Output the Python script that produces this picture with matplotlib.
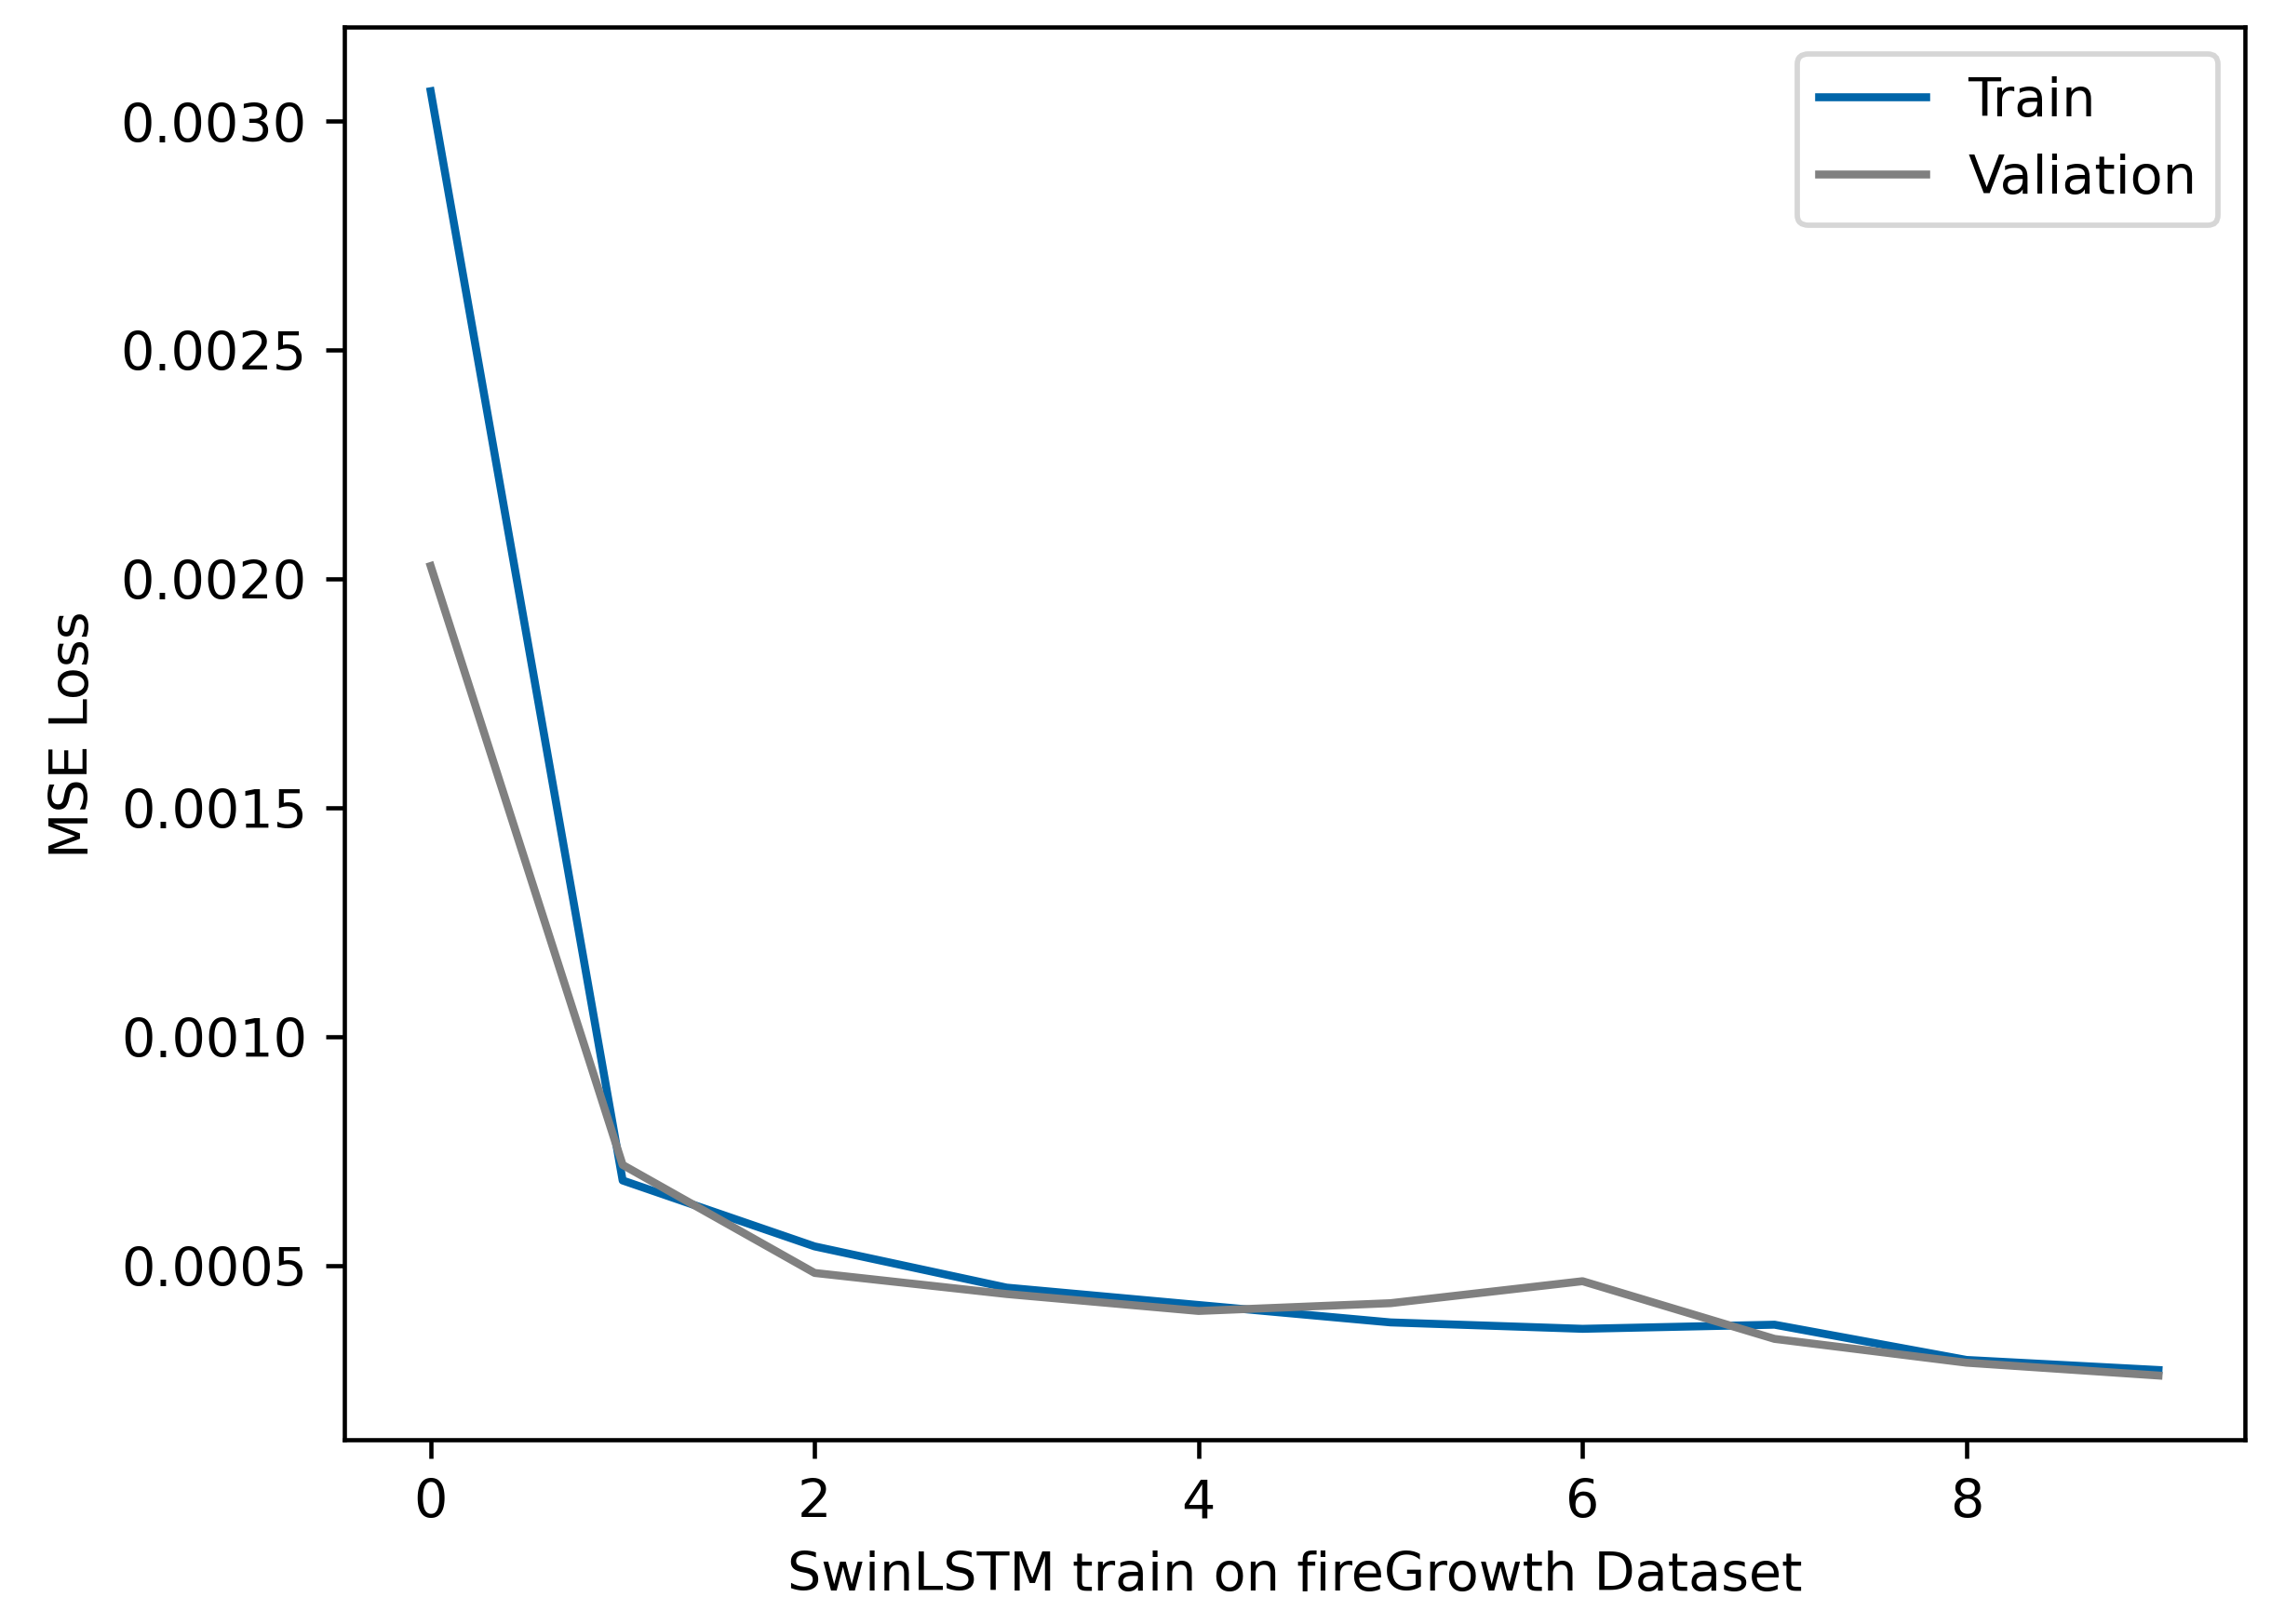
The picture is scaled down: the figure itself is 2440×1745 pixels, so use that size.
import numpy as np
import matplotlib
matplotlib.use('Agg')
import matplotlib.pyplot as plt

# loss per epoch
epochs = np.arange(10)
train_loss = [0.003065, 0.000686, 0.000542, 0.000452, 0.000414,
              0.000376, 0.000362, 0.000371, 0.000294, 0.000272]
val_loss = [0.002028, 0.000720, 0.000484, 0.000438, 0.000401,
            0.000418, 0.000466, 0.000340, 0.000288, 0.000260]

DPI = 412
fig = plt.figure(figsize=(2440 / DPI, 1746 / DPI), dpi=DPI)
ax = fig.add_axes([0.1516, 0.1134, 0.8369, 0.8694])

ax.plot(epochs, train_loss, color='#0065a9', label='Train')
ax.plot(epochs, val_loss, color='gray', label='Valiation')
ax.set_xlabel('SwinLSTM train on fireGrowth Dataset')
ax.set_ylabel('MSE Loss')
ax.legend()

fig.savefig('out.png', dpi=DPI)
